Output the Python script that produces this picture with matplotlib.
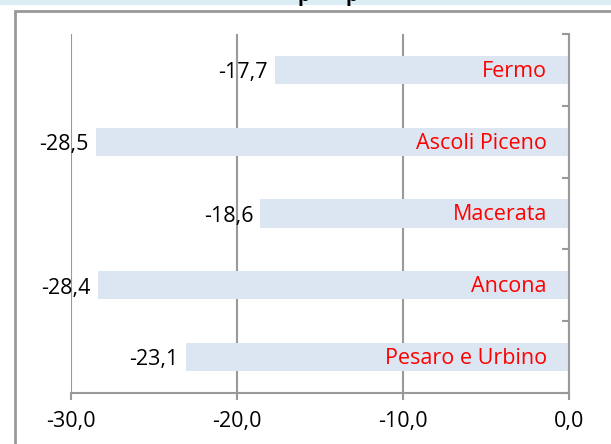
import matplotlib.pyplot as plt
from matplotlib.patches import Rectangle

provinces = ['Pesaro e Urbino', 'Ancona', 'Macerata', 'Ascoli Piceno', 'Fermo']
values = [-23.1, -28.4, -18.6, -28.5, -17.7]
xticks = [-30, -20, -10, 0]

grey = '#999999'
bar_col = '#dce6f2'
fs = 15.5

plt.rcParams['font.family'] = ['Open Sans', 'DejaVu Sans']

fig = plt.figure(figsize=(6.11, 4.44), dpi=100)

# light blue band at the top (title area, mostly cut off) and outer frame
fig.add_artist(Rectangle((0, 1 - 5/444), 1, 5/444, transform=fig.transFigure,
                         facecolor='#dbeef4', edgecolor='none'))
fig.add_artist(Rectangle((15/611, -0.1), 1.2, 1 - 11/444 + 0.1, transform=fig.transFigure,
                         facecolor='none', edgecolor=grey, linewidth=2))
for px in [304, 352]:
    fig.text(px/611, 1 - 0.5/444, 'p', ha='center', va='baseline',
             fontsize=14, fontweight='bold', color='black')

ax = fig.add_axes([71/611, 1 - 393/444, (569 - 71)/611, (393 - 34)/444])

y = range(len(provinces))
ax.barh(y, values, height=0.39, color=bar_col, zorder=2)

for i, (name, v) in enumerate(zip(provinces, values)):
    ax.annotate(f'{v:.1f}'.replace('.', ','), (v, i), xytext=(-5, -2),
                textcoords='offset points', ha='right', va='center',
                fontsize=fs, color='black', zorder=3)
    ax.annotate(name, (0, i), xytext=(-16, -1),
                textcoords='offset points', ha='right', va='center',
                fontsize=fs, color='red', zorder=3)

ax.set_xlim(-30, 0)
ax.set_ylim(-0.5, len(provinces) - 0.5)
ax.set_xticks(xticks)
ax.set_xticklabels([f'{t:.1f}'.replace('.', ',') for t in xticks], fontsize=fs)
ax.grid(axis='x', color=grey, linewidth=1.5, zorder=0)
ax.set_axisbelow(True)

ax.yaxis.tick_right()
ax.set_yticks([i - 0.5 for i in range(len(provinces) + 1)])
ax.set_yticklabels([])
ax.tick_params(axis='y', direction='in', length=5, color=grey, width=1.5)
ax.tick_params(axis='x', direction='out', length=5, color=grey, width=1.5, pad=8)

for s in ['top', 'left']:
    ax.spines[s].set_visible(False)
for s in ['right', 'bottom']:
    ax.spines[s].set_color(grey)
    ax.spines[s].set_linewidth(1.5)

fig.savefig('out.png', dpi=100)
